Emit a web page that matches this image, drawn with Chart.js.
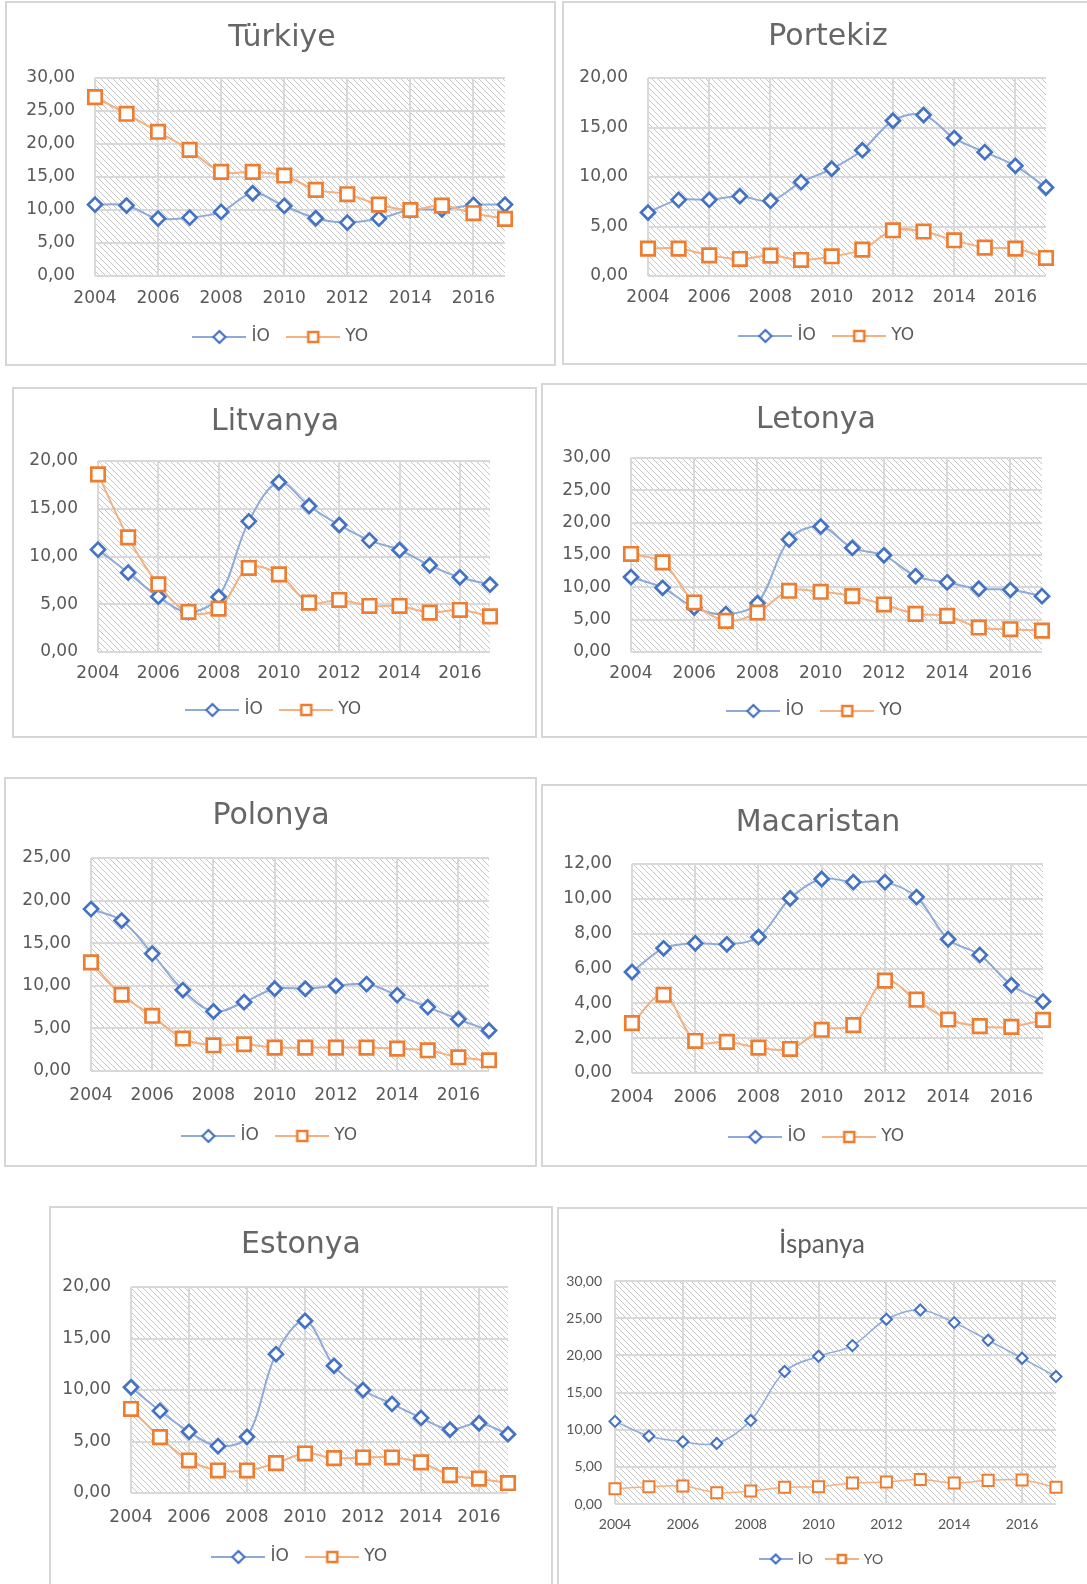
<!DOCTYPE html>
<html><head><meta charset="utf-8">
<script src="https://cdn.jsdelivr.net/npm/chart.js@4.4.1/dist/chart.umd.min.js"></script>
<style>
html,body{margin:0;padding:0;background:#fff;overflow:hidden;width:1087px;height:1584px;position:relative;}
.panel{position:absolute;box-sizing:border-box;border:2px solid #d6d6d6;}
canvas{position:absolute;}
</style></head><body>
<script>
// ---------- DATA ----------
const years = ['2004','2005','2006','2007','2008','2009','2010','2011','2012','2013','2014','2015','2016','2017'];
const seriesNames = ['İO', 'YO'];

const turkiyeIO = [10.82,10.67,8.70,8.85,9.71,12.54,10.62,8.75,8.09,8.70,10.00,10.10,10.77,10.82];
const turkiyeYO = [27.11,24.58,21.85,19.12,15.78,15.78,15.22,13.05,12.39,10.82,10.00,10.67,9.51,8.65];
const portekizIO = [6.41,7.69,7.69,8.06,7.59,9.48,10.83,12.71,15.68,16.26,13.93,12.51,11.13,8.94];
const portekizYO = [2.77,2.77,2.09,1.72,2.06,1.62,1.99,2.66,4.62,4.49,3.61,2.87,2.77,1.82];
const litvanyaIO = [10.72,8.31,5.79,4.19,5.76,13.68,17.77,15.29,13.30,11.69,10.68,9.08,7.82,7.05];
const litvanyaYO = [18.60,12.00,7.09,4.19,4.54,8.80,8.13,5.17,5.45,4.82,4.82,4.12,4.40,3.73];
const letonyaIO = [11.59,9.93,6.88,5.85,7.55,17.38,19.40,16.09,14.95,11.74,10.76,9.78,9.62,8.64];
const letonyaYO = [15.16,13.86,7.66,4.81,6.10,9.47,9.31,8.64,7.35,5.90,5.59,3.78,3.52,3.31];
const polonyaIO = [19.00,17.66,13.78,9.50,6.99,8.08,9.65,9.65,10.00,10.20,8.91,7.50,6.08,4.75];
const polonyaYO = [12.75,8.95,6.48,3.81,3.02,3.14,2.75,2.75,2.75,2.75,2.63,2.43,1.61,1.26];
const macaristanIO = [5.80,7.16,7.45,7.39,7.81,10.02,11.14,10.96,10.96,10.10,7.68,6.78,5.05,4.11];
const macaristanYO = [2.86,4.49,1.84,1.79,1.46,1.38,2.48,2.75,5.30,4.21,3.07,2.69,2.65,3.05];
const estonyaIO = [10.26,7.97,5.94,4.55,5.45,13.48,16.71,12.35,10.00,8.65,7.29,6.16,6.77,5.71];
const estonyaYO = [8.16,5.42,3.16,2.19,2.19,2.90,3.84,3.39,3.45,3.45,2.97,1.74,1.39,0.97];
const ispanyaIO = [11.11,9.14,8.37,8.15,11.24,17.82,19.88,21.31,24.85,26.10,24.40,22.03,19.61,17.15];
const ispanyaYO = [2.06,2.33,2.42,1.52,1.75,2.24,2.33,2.82,2.96,3.31,2.82,3.18,3.22,2.24];

const chartTitles = ['Türkiye','Portekiz','Litvanya','Letonya','Polonya','Macaristan','Estonya','İspanya'];
const yMaxes = [30, 20, 20, 30, 25, 12, 20, 30];
const ySteps = [5, 5, 5, 5, 5, 2, 5, 5];

// ---------- LAYOUT (page pixels) ----------
const layouts = [
  {panel:[5,1,551,365],    plot:[95,78,505,276],    titleX:282, titleY:38,   xLabelY:299,  legendY:337},
  {panel:[562,1,560,364],  plot:[648,78,1046,276],  titleX:828, titleY:37,   xLabelY:298,  legendY:336},
  {panel:[12,387,525,351], plot:[98,461,490,652],   titleX:275, titleY:422,  xLabelY:674,  legendY:710},
  {panel:[541,383,560,355],plot:[631,458,1042,652], titleX:816, titleY:420,  xLabelY:674,  legendY:711},
  {panel:[4,777,533,390],  plot:[91,858,489,1071],  titleX:271, titleY:816,  xLabelY:1096, legendY:1136},
  {panel:[541,784,560,383],plot:[632,864,1043,1073],titleX:818, titleY:823,  xLabelY:1098, legendY:1137},
  {panel:[49,1206,504,390],plot:[131,1287,508,1493],titleX:301, titleY:1245, xLabelY:1518, legendY:1557},
  {panel:[557,1207,560,390],plot:[615,1281,1056,1504],titleX:822,titleY:1245, xLabelY:1524, legendY:1559}
];
const styleMain = {font:'DejaVu Sans', titleSize:30, tickSize:17, legendSize:17, legendGap:20,
  legendImgW:54, legendBox:47, legendR:6, legendSq:5, lineW:2, dR:7, sR:9.5, pbw:2.7, yPad:20,
  titleColor:'#666666', tickColor:'#595959'};
const styleSmall = {font:'Lato', titleSize:26, tickSize:14, legendSize:14, legendGap:14,
  legendImgW:34, legendBox:30, legendR:4.5, legendSq:4, lineW:1.5, dR:5.5, sR:7.8, pbw:2, yPad:13,
  titleColor:'#5f5f5f', tickColor:'#555555'};
const styles = [styleMain,styleMain,styleMain,styleMain,styleMain,styleMain,styleMain,styleSmall];

const ioColor = '#4472c4', ioLine = '#8eaadb', yoColor = '#ed7d31', yoLine = '#f4b183';

// ---------- helpers ----------
function makeHatch(ctx){
  const c = document.createElement('canvas'); c.width = 6; c.height = 6;
  const g = c.getContext('2d');
  g.fillStyle = '#ffffff'; g.fillRect(0,0,6,6);
  g.fillStyle = '#c6c6c6';
  for (let i = 0; i < 6; i++) g.fillRect(i, i, 1, 1);
  return ctx.createPattern(c, 'repeat');
}
const hatchPlugin = {
  id: 'hatch',
  beforeDraw(chart){
    const {ctx, chartArea:a} = chart;
    ctx.save();
    ctx.fillStyle = makeHatch(ctx);
    ctx.fillRect(a.left, a.top, a.right - a.left, a.bottom - a.top);
    ctx.restore();
  }
};
function legendImg(kind, S){
  const w = S.legendImgW, h = 18;
  const c = document.createElement('canvas'); c.width = w; c.height = h;
  const g = c.getContext('2d');
  g.strokeStyle = kind === 'diamond' ? ioLine : yoLine;
  g.lineWidth = 1.8;
  g.beginPath(); g.moveTo(0, h/2); g.lineTo(w, h/2); g.stroke();
  g.fillStyle = '#fff';
  g.strokeStyle = kind === 'diamond' ? ioColor : yoColor;
  g.beginPath();
  const cx = w/2, cy = h/2;
  if (kind === 'diamond') {
    const r = S.legendR; g.lineWidth = 2.2;
    g.moveTo(cx - r, cy); g.lineTo(cx, cy - r); g.lineTo(cx + r, cy); g.lineTo(cx, cy + r); g.closePath();
  } else {
    const r = S.legendSq; g.lineWidth = 2.6;
    g.rect(cx - r, cy - r, 2*r, 2*r);
  }
  g.fill(); g.stroke();
  return c;
}
const fmt = v => Number(v).toFixed(2).replace('.', ',');

function build(i, io, yo){
  const L = layouts[i], S = styles[i];
  const [px, py, pw, ph] = L.panel;
  const d = document.createElement('div'); d.className = 'panel';
  Object.assign(d.style, {left:px+'px', top:py+'px', width:pw+'px', height:ph+'px'});
  document.body.appendChild(d);
  const cv = document.createElement('canvas');
  cv.width = pw; cv.height = ph;
  Object.assign(cv.style, {left:px+'px', top:py+'px', width:pw+'px', height:ph+'px'});
  document.body.appendChild(cv);

  const l = L.plot[0]-px, t = L.plot[1]-py, r = L.plot[2]-px, b = L.plot[3]-py;
  const tx = L.titleX - px, ty = L.titleY - py, xl = L.xLabelY - py, lg = L.legendY - py;
  const padL = Math.max(0, 2*tx - pw) + 2;
  const padR = pw + padL - 2*tx;
  const yAxisW = l - padL;
  const rightAxisW = pw - padR - r;
  const tlh = S.titleSize * 1.2;
  const padT = ty - tlh/2;
  const titlePadB = t - padT - tlh;
  const lfs = S.legendSize, lp = S.legendGap;
  const padB = ph - lg - lfs/2 - 10;
  const legendH = lfs + lp + 10;
  const xAxisH = ph - padB - legendH - b;
  const xTickPad = xl - b - S.tickSize*1.2/2;
  const imgs = [legendImg('diamond', S), legendImg('square', S)];

  new Chart(cv, {
    type: 'line',
    data: {
      labels: years,
      datasets: [
        {label: seriesNames[0], data: io, borderColor: ioLine, borderWidth: S.lineW,
         pointStyle: 'rectRot', pointRadius: S.dR, pointHoverRadius: S.dR,
         pointBorderColor: ioColor, pointBackgroundColor: '#ffffff', pointBorderWidth: S.pbw,
         tension: 0.35, clip: false, order: 1, fill: false},
        {label: seriesNames[1], data: yo, borderColor: yoLine, borderWidth: S.lineW,
         pointStyle: 'rect', pointRadius: S.sR, pointHoverRadius: S.sR,
         pointBorderColor: yoColor, pointBackgroundColor: '#ffffff', pointBorderWidth: S.pbw,
         tension: 0.35, clip: false, order: 0, fill: false}
      ]
    },
    options: {
      responsive: false, animation: false, devicePixelRatio: 1, events: [],
      layout: {padding: {left: padL, right: padR, top: padT, bottom: padB}},
      scales: {
        x: {
          type: 'category', offset: false,
          grid: {drawTicks: false, lineWidth: 2,
                 color: c => (c.index % 2 === 0 ? '#d9d9d9' : 'rgba(0,0,0,0)')},
          border: {display: false},
          ticks: {autoSkip: false, maxRotation: 0, minRotation: 0, padding: xTickPad,
                  color: S.tickColor, font: {family: S.font, size: S.tickSize},
                  callback: function(v, idx){ return idx % 2 === 0 ? this.getLabelForValue(v) : ''; }},
          afterFit: s => { s.height = xAxisH; }
        },
        y: {
          position: 'left', min: 0, max: yMaxes[i],
          grid: {drawTicks: false, lineWidth: 2, color: '#d9d9d9'},
          border: {display: false},
          ticks: {stepSize: ySteps[i], padding: S.yPad, color: S.tickColor,
                  font: {family: S.font, size: S.tickSize}, callback: v => fmt(v)},
          afterFit: s => { s.width = yAxisW; }
        },
        ySpacer: {
          position: 'right', display: true, min: 0, max: 1,
          grid: {display: false, drawTicks: false}, border: {display: false},
          ticks: {display: false},
          afterFit: s => { s.width = rightAxisW; }
        }
      },
      plugins: {
        tooltip: {enabled: false},
        title: {display: true, text: chartTitles[i], color: S.titleColor,
                font: {family: S.font, size: S.titleSize, weight: 'normal', lineHeight: 1.2},
                padding: {top: 0, bottom: titlePadB}},
        legend: {display: true, position: 'bottom',
          labels: {usePointStyle: true, pointStyleWidth: S.legendBox, padding: lp,
                   color: S.tickColor, font: {family: S.font, size: lfs},
                   generateLabels: chart => chart.data.datasets.map((ds, k) => ({
                     text: ds.label, pointStyle: imgs[k], fillStyle: 'rgba(0,0,0,0)',
                     strokeStyle: 'rgba(0,0,0,0)', lineWidth: 0, hidden: false,
                     datasetIndex: k, fontColor: S.tickColor}))}}
      }
    },
    plugins: [hatchPlugin]
  });
}

build(0, turkiyeIO, turkiyeYO);
build(1, portekizIO, portekizYO);
build(2, litvanyaIO, litvanyaYO);
build(3, letonyaIO, letonyaYO);
build(4, polonyaIO, polonyaYO);
build(5, macaristanIO, macaristanYO);
build(6, estonyaIO, estonyaYO);
build(7, ispanyaIO, ispanyaYO);
</script>
</body></html>
